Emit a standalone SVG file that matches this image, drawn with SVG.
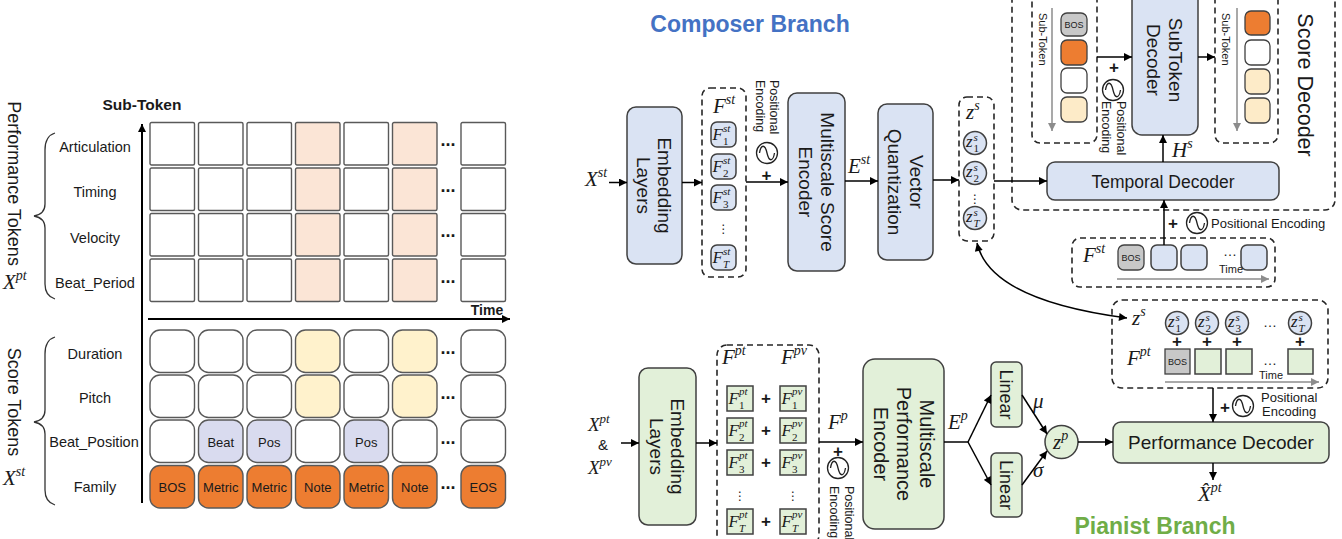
<svg xmlns="http://www.w3.org/2000/svg" xmlns:xlink="http://www.w3.org/1999/xlink" width="1342" height="539" viewBox="0 0 1342 539">
<defs>
<style>
text{font-family:"Liberation Sans",Arial,sans-serif;fill:#1a1a1a}
.m{font-family:"Liberation Serif","Times New Roman",serif;font-style:italic}
.u{font-style:normal}
.lb{font-size:14.5px;text-anchor:middle}
.ct{font-size:13px;text-anchor:middle}
.ax{fill:none;stroke:#000;stroke-width:2}
.bb{fill:#dae3f3;stroke:#404040;stroke-width:1.5}
.gb{fill:#e2f0d9;stroke:#404040;stroke-width:1.5}
.tk{stroke:#404040;stroke-width:1.3}
.ds{fill:none;stroke:#262626;stroke-width:1.6;stroke-dasharray:6 4}
.cn{fill:none;stroke:#000;stroke-width:1.5}
.ga{fill:none;stroke:#8c8c8c;stroke-width:1.5}
.br{fill:none;stroke:#333;stroke-width:1.3}
.bt{font-size:19px;text-anchor:middle}
.pl{font-weight:bold;font-size:17px;text-anchor:middle}
.pe{font-size:12.5px}
.dots{font-weight:bold;font-size:18px;text-anchor:middle}
.el{font-size:14px;text-anchor:middle}
.sm{font-size:9px;text-anchor:middle}
.vd{font-family:"DejaVu Sans",sans-serif;font-size:12px;text-anchor:middle}
</style>
<marker id="ah" viewBox="0 0 10 10" refX="10" refY="5" markerWidth="9" markerHeight="8" markerUnits="userSpaceOnUse" orient="auto-start-reverse"><path d="M0,0 L10,5 L0,10 z" fill="#000"/></marker>
<marker id="gah" viewBox="0 0 10 10" refX="10" refY="5" markerWidth="9" markerHeight="8" markerUnits="userSpaceOnUse" orient="auto-start-reverse"><path d="M0,0 L10,5 L0,10 z" fill="#8c8c8c"/></marker>
<rect id="sq" width="44.5" height="42.5" rx="1.5" stroke="#595959" stroke-width="1.4"/>
<rect id="rr" width="44.5" height="42.5" rx="10" stroke="#595959" stroke-width="1.4"/>
<g id="pesym"><circle r="10.5" fill="#fff" stroke="#222" stroke-width="1.3"/><path d="M-7.5,0 C-6,-9 -2,-9 0,0 S6,9 7.5,0" fill="none" stroke="#222" stroke-width="1.3"/></g>
</defs>

<!-- ================= LEFT PANEL ================= -->
<g id="token-grid">
<text x="142" y="110" font-size="15.5" font-weight="bold" text-anchor="middle">Sub-Token</text>
<path class="ax" d="M142,503V124" marker-end="url(#ah)"/>
<path class="ax" d="M148,319H510" marker-end="url(#ah)"/>
<text x="487" y="315" font-size="14" font-weight="bold" text-anchor="middle">Time</text>

<text font-size="18" transform="translate(8,183.5) rotate(90)" text-anchor="middle">Performance Tokens</text>
<text class="m" x="3" y="289" font-size="21">X<tspan font-size="14" dy="-9">pt</tspan></text>
<path class="br" d="M55,133 Q45,136 45,150 L45,204 Q45,214 34,216 Q45,218 45,228 L45,284 Q45,296 55,299"/>
<text font-size="18" transform="translate(8,402) rotate(90)" text-anchor="middle">Score Tokens</text>
<text class="m" x="3" y="485" font-size="21">X<tspan font-size="14" dy="-9">st</tspan></text>
<path class="br" d="M55,337 Q45,340 45,354 L45,410 Q45,420 34,422 Q45,424 45,434 L45,490 Q45,502 55,505"/>

<text class="lb" x="95" y="151.5">Articulation</text>
<text class="lb" x="95" y="197">Timing</text>
<text class="lb" x="95" y="243">Velocity</text>
<text class="lb" x="95" y="288">Beat_Period</text>
<text class="lb" x="95" y="358.5">Duration</text>
<text class="lb" x="95" y="403">Pitch</text>
<text class="lb" x="94" y="447">Beat_Position</text>
<text class="lb" x="95" y="491.5">Family</text>

<!-- performance rows -->
<use href="#sq" x="150" y="122.5" fill="#fff"/><use href="#sq" x="198.5" y="122.5" fill="#fff"/><use href="#sq" x="247" y="122.5" fill="#fff"/><use href="#sq" x="295.5" y="122.5" fill="#fbe5d6"/><use href="#sq" x="344" y="122.5" fill="#fff"/><use href="#sq" x="392.5" y="122.5" fill="#fbe5d6"/><use href="#sq" x="461" y="122.5" fill="#fff"/>
<use href="#sq" x="150" y="168" fill="#fff"/><use href="#sq" x="198.5" y="168" fill="#fff"/><use href="#sq" x="247" y="168" fill="#fff"/><use href="#sq" x="295.5" y="168" fill="#fbe5d6"/><use href="#sq" x="344" y="168" fill="#fff"/><use href="#sq" x="392.5" y="168" fill="#fbe5d6"/><use href="#sq" x="461" y="168" fill="#fff"/>
<use href="#sq" x="150" y="213.5" fill="#fff"/><use href="#sq" x="198.5" y="213.5" fill="#fff"/><use href="#sq" x="247" y="213.5" fill="#fff"/><use href="#sq" x="295.5" y="213.5" fill="#fbe5d6"/><use href="#sq" x="344" y="213.5" fill="#fff"/><use href="#sq" x="392.5" y="213.5" fill="#fbe5d6"/><use href="#sq" x="461" y="213.5" fill="#fff"/>
<use href="#sq" x="150" y="259" fill="#fff"/><use href="#sq" x="198.5" y="259" fill="#fff"/><use href="#sq" x="247" y="259" fill="#fff"/><use href="#sq" x="295.5" y="259" fill="#fbe5d6"/><use href="#sq" x="344" y="259" fill="#fff"/><use href="#sq" x="392.5" y="259" fill="#fbe5d6"/><use href="#sq" x="461" y="259" fill="#fff"/>
<!-- score rows -->
<use href="#rr" x="150" y="330" fill="#fff"/><use href="#rr" x="198.5" y="330" fill="#fff"/><use href="#rr" x="247" y="330" fill="#fff"/><use href="#rr" x="295.5" y="330" fill="#fff2cc"/><use href="#rr" x="344" y="330" fill="#fff"/><use href="#rr" x="392.5" y="330" fill="#fff2cc"/><use href="#rr" x="461" y="330" fill="#fff"/>
<use href="#rr" x="150" y="375" fill="#fff"/><use href="#rr" x="198.5" y="375" fill="#fff"/><use href="#rr" x="247" y="375" fill="#fff"/><use href="#rr" x="295.5" y="375" fill="#fff2cc"/><use href="#rr" x="344" y="375" fill="#fff"/><use href="#rr" x="392.5" y="375" fill="#fff2cc"/><use href="#rr" x="461" y="375" fill="#fff"/>
<use href="#rr" x="150" y="420" fill="#fff"/><use href="#rr" x="198.5" y="420" fill="#d9dbef"/><use href="#rr" x="247" y="420" fill="#d9dbef"/><use href="#rr" x="295.5" y="420" fill="#fff"/><use href="#rr" x="344" y="420" fill="#d9dbef"/><use href="#rr" x="392.5" y="420" fill="#fff"/><use href="#rr" x="461" y="420" fill="#fff"/>
<use href="#rr" x="150" y="465.5" fill="#ed7d31"/><use href="#rr" x="198.5" y="465.5" fill="#ed7d31"/><use href="#rr" x="247" y="465.5" fill="#ed7d31"/><use href="#rr" x="295.5" y="465.5" fill="#ed7d31"/><use href="#rr" x="344" y="465.5" fill="#ed7d31"/><use href="#rr" x="392.5" y="465.5" fill="#ed7d31"/><use href="#rr" x="461" y="465.5" fill="#ed7d31"/>

<text class="ct" x="220.75" y="446.5">Beat</text>
<text class="ct" x="269.25" y="446.5">Pos</text>
<text class="ct" x="366.25" y="446.5">Pos</text>
<text class="ct" x="172.25" y="492">BOS</text>
<text class="ct" x="220.75" y="492">Metric</text>
<text class="ct" x="269.25" y="492">Metric</text>
<text class="ct" x="317.75" y="492">Note</text>
<text class="ct" x="366.25" y="492">Metric</text>
<text class="ct" x="414.75" y="492">Note</text>
<text class="ct" x="483.25" y="492">EOS</text>

<text class="dots" x="448" y="146">...</text>
<text class="dots" x="448" y="191.5">...</text>
<text class="dots" x="448" y="237">...</text>
<text class="dots" x="448" y="282.5">...</text>
<text class="dots" x="448" y="353.5">...</text>
<text class="dots" x="448" y="398.5">...</text>
<text class="dots" x="448" y="443.5">...</text>
<text class="dots" x="448" y="489">...</text>
</g>

<!-- ================= COMPOSER BRANCH ================= -->
<text x="750" y="32" font-size="23" font-weight="bold" text-anchor="middle" style="fill:#4472c4">Composer Branch</text>

<g id="xst-input"><text class="m" x="585" y="186" font-size="21">X<tspan font-size="14" dy="-9">st</tspan></text></g>

<g id="embedding-top">
<rect class="bb" x="627" y="107" width="55" height="157" rx="9"/>
<text class="bt" transform="translate(654.5,185.5) rotate(90)"><tspan x="0" y="-3.9">Embedding</tspan><tspan x="0" y="17.1">Layers</tspan></text>
</g>

<g id="fst-column">
<rect class="ds" x="702" y="88" width="44" height="189" rx="8"/>
<text class="m" x="713" y="113" font-size="21">F<tspan font-size="14" dy="-9">st</tspan></text>
<rect class="bb" x="711" y="122" width="25" height="25" rx="6"/>
<rect class="bb" x="711" y="154" width="25" height="25" rx="6"/>
<rect class="bb" x="711" y="185" width="25" height="25" rx="6"/>
<rect class="bb" x="711" y="245" width="25" height="25" rx="6"/>
<text class="m" font-size="17"><tspan x="712.5" y="140">F</tspan><tspan x="723" y="132" font-size="11">st</tspan><tspan x="723" y="145" font-size="11" class="u">1</tspan></text>
<text class="m" font-size="17"><tspan x="712.5" y="172">F</tspan><tspan x="723" y="164" font-size="11">st</tspan><tspan x="723" y="177" font-size="11" class="u">2</tspan></text>
<text class="m" font-size="17"><tspan x="712.5" y="203">F</tspan><tspan x="723" y="195" font-size="11">st</tspan><tspan x="723" y="208" font-size="11" class="u">3</tspan></text>
<text class="vd" x="723.5" y="233">⋮</text>
<text class="m" font-size="17"><tspan x="712.5" y="263">F</tspan><tspan x="723" y="255" font-size="11">st</tspan><tspan x="723" y="268" font-size="11">T</tspan></text>
</g>

<g id="pe-top">
<text class="pe" transform="translate(770,80) rotate(90)"><tspan x="0" y="0">Positional</tspan><tspan x="0" y="14.5">Encoding</tspan></text>
<use href="#pesym" x="767" y="153"/>
<text class="pl" x="766.5" y="181">+</text>
</g>

<g id="score-encoder">
<rect class="bb" x="788" y="93" width="57" height="178" rx="9"/>
<text class="bt" transform="translate(816.5,182) rotate(90)"><tspan x="0" y="-4.4">Multiscale Score</tspan><tspan x="0" y="17.6">Encoder</tspan></text>
</g>
<text class="m" x="848" y="173" font-size="21">E<tspan font-size="14" dy="-9">st</tspan></text>

<g id="vector-quantization">
<rect class="bb" x="878" y="104" width="55" height="156" rx="9"/>
<text class="bt" transform="translate(905.5,182) rotate(90)"><tspan x="0" y="-4.4">Vector</tspan><tspan x="0" y="17.6">Quantization</tspan></text>
</g>

<g id="zs-column">
<rect class="ds" x="959" y="97" width="35" height="144" rx="8"/>
<text class="m" x="966" y="119" font-size="21">z<tspan font-size="14" dy="-9">s</tspan></text>
<circle class="bb" cx="975" cy="143" r="11.5"/>
<circle class="bb" cx="975" cy="173" r="11.5"/>
<circle class="bb" cx="975" cy="218" r="11.5"/>
<text class="m" font-size="17"><tspan x="966" y="147">z</tspan><tspan x="973.5" y="141" font-size="11">s</tspan><tspan x="973.5" y="152" font-size="11" class="u">1</tspan></text>
<text class="m" font-size="17"><tspan x="966" y="177">z</tspan><tspan x="973.5" y="171" font-size="11">s</tspan><tspan x="973.5" y="182" font-size="11" class="u">2</tspan></text>
<text class="vd" x="975" y="203">⋮</text>
<text class="m" font-size="17"><tspan x="966" y="222">z</tspan><tspan x="973.5" y="216" font-size="11">s</tspan><tspan x="973.5" y="227" font-size="11">T</tspan></text>
</g>

<!-- ================= SCORE DECODER ================= -->
<g id="score-decoder">
<rect class="ds" x="1012" y="-20" width="323" height="230" rx="10"/>
<text font-size="21.5" text-anchor="middle" transform="translate(1298,85) rotate(90)">Score Decoder</text>
</g>

<g id="subtoken-input">
<rect class="ds" x="1032" y="-20" width="65" height="163" rx="8"/>
<text font-size="11" transform="translate(1038.5,13) rotate(90)">Sub-Token</text>
<rect class="tk" x="1061" y="13" width="26" height="23" rx="6" fill="#c8c8c8"/>
<text class="sm" x="1074" y="28">BOS</text>
<rect class="tk" x="1061" y="40" width="26" height="25" rx="6" fill="#ed7d31"/>
<rect class="tk" x="1061" y="68" width="26" height="25" rx="6" fill="#fff"/>
<rect class="tk" x="1061" y="97" width="26" height="25" rx="6" fill="#fdebc8"/>
</g>

<g id="pe-subtoken">
<use href="#pesym" x="1113" y="90"/>
<text class="pl" x="1114" y="73">+</text>
<text class="pe" transform="translate(1117,101) rotate(90)"><tspan x="0" y="0">Positional</tspan><tspan x="0" y="15">Encoding</tspan></text>
</g>

<g id="subtoken-decoder">
<rect class="bb" x="1132" y="-10" width="66" height="145" rx="10"/>
<text class="bt" transform="translate(1165,60) rotate(90)"><tspan x="0" y="-4.4">SubToken</tspan><tspan x="0" y="17.6">Decoder</tspan></text>
</g>

<g id="subtoken-output">
<rect class="ds" x="1215" y="-20" width="63" height="163" rx="8"/>
<text font-size="11" transform="translate(1221.5,13) rotate(90)">Sub-Token</text>
<rect class="tk" x="1245" y="11" width="25" height="24" rx="6" fill="#ed7d31"/>
<rect class="tk" x="1245" y="40" width="25" height="25" rx="6" fill="#fff"/>
<rect class="tk" x="1245" y="69" width="25" height="25" rx="6" fill="#fdebc8"/>
<rect class="tk" x="1245" y="98" width="25" height="25" rx="6" fill="#fdebc8"/>
</g>

<text class="m" x="1172" y="157" font-size="21">H<tspan font-size="14" dy="-9">s</tspan></text>

<g id="temporal-decoder">
<rect class="bb" x="1047" y="162" width="232" height="38" rx="8"/>
<text x="1163" y="187.5" font-size="17.5" text-anchor="middle">Temporal Decoder</text>
</g>

<g id="pe-temporal">
<text class="pl" x="1173" y="229">+</text>
<use href="#pesym" x="1197" y="223"/>
<text x="1211" y="228" font-size="13">Positional Encoding</text>
</g>

<g id="fst-sequence">
<rect class="ds" x="1072" y="238" width="203" height="49" rx="8"/>
<text class="m" x="1083" y="262" font-size="21">F<tspan font-size="14" dy="-9">st</tspan></text>
<rect class="tk" x="1118" y="245" width="26" height="25" rx="6" fill="#c8c8c8"/>
<text class="sm" x="1131" y="261">BOS</text>
<rect class="bb" x="1151" y="245" width="26" height="25" rx="6"/>
<rect class="bb" x="1181" y="245" width="26" height="25" rx="6"/>
<rect class="bb" x="1241" y="245" width="26" height="25" rx="6"/>
<text class="el" x="1230" y="256">…</text>
<text x="1231" y="273" font-size="11" text-anchor="middle">Time</text>
</g>

<!-- ================= PERFORMANCE DECODER INPUT ================= -->
<g id="zs-fpt-sequence">
<rect class="ds" x="1112" y="300" width="216" height="88" rx="10"/>
<text class="m" x="1132" y="325" font-size="21">z<tspan font-size="14" dy="-9">s</tspan></text>
<circle class="bb" cx="1177" cy="323" r="11.5"/>
<circle class="bb" cx="1207" cy="323" r="11.5"/>
<circle class="bb" cx="1237" cy="323" r="11.5"/>
<circle class="bb" cx="1300" cy="323" r="11.5"/>
<text class="m" font-size="17"><tspan x="1168" y="327">z</tspan><tspan x="1175.5" y="321" font-size="11">s</tspan><tspan x="1175.5" y="332" font-size="11" class="u">1</tspan></text>
<text class="m" font-size="17"><tspan x="1198" y="327">z</tspan><tspan x="1205.5" y="321" font-size="11">s</tspan><tspan x="1205.5" y="332" font-size="11" class="u">2</tspan></text>
<text class="m" font-size="17"><tspan x="1228" y="327">z</tspan><tspan x="1235.5" y="321" font-size="11">s</tspan><tspan x="1235.5" y="332" font-size="11" class="u">3</tspan></text>
<text class="el" x="1270" y="327">…</text>
<text class="m" font-size="17"><tspan x="1291" y="327">z</tspan><tspan x="1298.5" y="321" font-size="11">s</tspan><tspan x="1298.5" y="332" font-size="11">T</tspan></text>
<text class="pl" x="1177" y="347" font-size="15">+</text>
<text class="pl" x="1207" y="347" font-size="15">+</text>
<text class="pl" x="1237" y="347" font-size="15">+</text>
<text class="pl" x="1300" y="347" font-size="15">+</text>
<text class="m" x="1127" y="365" font-size="21">F<tspan font-size="14" dy="-9">pt</tspan></text>
<rect class="tk" x="1165" y="349" width="25" height="25" fill="#c8c8c8"/>
<text class="sm" x="1177.5" y="365">BOS</text>
<rect class="gb" x="1195" y="349" width="26" height="25"/>
<rect class="gb" x="1226" y="349" width="26" height="25"/>
<rect class="gb" x="1288" y="349" width="25" height="25"/>
<text class="el" x="1270" y="365">…</text>
<text x="1271" y="379" font-size="11" text-anchor="middle">Time</text>
</g>

<g id="pe-perf-decoder">
<text class="pl" x="1225" y="413">+</text>
<use href="#pesym" x="1243" y="406"/>
<text x="1261" y="402" font-size="13">Positional</text>
<text x="1262" y="416" font-size="13">Encoding</text>
</g>

<!-- ================= PIANIST BRANCH ================= -->
<g id="xp-input">
<text class="m" x="588" y="431" font-size="19">X<tspan font-size="13" dy="-8">pt</tspan></text>
<text x="603" y="450" font-size="15" text-anchor="middle">&amp;</text>
<text class="m" x="588" y="474" font-size="19">X<tspan font-size="13" dy="-8">pv</tspan></text>
</g>

<g id="embedding-bottom">
<rect class="gb" x="639" y="368" width="57" height="157" rx="9"/>
<text class="bt" transform="translate(667.5,446.5) rotate(90)"><tspan x="0" y="-3.9">Embedding</tspan><tspan x="0" y="17.1">Layers</tspan></text>
</g>

<g id="fpt-fpv-column">
<rect class="ds" x="717" y="345" width="102" height="200" rx="10"/>
<text class="m" x="722" y="364" font-size="21">F<tspan font-size="14" dy="-9">pt</tspan></text>
<text class="m" x="781" y="364" font-size="21">F<tspan font-size="14" dy="-9">pv</tspan></text>
<rect class="gb" x="727" y="386" width="26" height="25"/><rect class="gb" x="780" y="386" width="26" height="25"/>
<rect class="gb" x="727" y="418" width="26" height="25"/><rect class="gb" x="780" y="418" width="26" height="25"/>
<rect class="gb" x="727" y="450" width="26" height="25"/><rect class="gb" x="780" y="450" width="26" height="25"/>
<rect class="gb" x="727" y="509" width="26" height="25"/><rect class="gb" x="780" y="509" width="26" height="25"/>
<text class="m" font-size="17"><tspan x="728.5" y="404">F</tspan><tspan x="739" y="395" font-size="11">pt</tspan><tspan x="739" y="409" font-size="11" class="u">1</tspan></text>
<text class="m" font-size="17"><tspan x="781.5" y="404">F</tspan><tspan x="792" y="395" font-size="11">pv</tspan><tspan x="792" y="409" font-size="11" class="u">1</tspan></text>
<text class="m" font-size="17"><tspan x="728.5" y="436">F</tspan><tspan x="739" y="427" font-size="11">pt</tspan><tspan x="739" y="441" font-size="11" class="u">2</tspan></text>
<text class="m" font-size="17"><tspan x="781.5" y="436">F</tspan><tspan x="792" y="427" font-size="11">pv</tspan><tspan x="792" y="441" font-size="11" class="u">2</tspan></text>
<text class="m" font-size="17"><tspan x="728.5" y="468">F</tspan><tspan x="739" y="459" font-size="11">pt</tspan><tspan x="739" y="473" font-size="11" class="u">3</tspan></text>
<text class="m" font-size="17"><tspan x="781.5" y="468">F</tspan><tspan x="792" y="459" font-size="11">pv</tspan><tspan x="792" y="473" font-size="11" class="u">3</tspan></text>
<text class="m" font-size="17"><tspan x="728.5" y="527">F</tspan><tspan x="739" y="518" font-size="11">pt</tspan><tspan x="739" y="532" font-size="11">T</tspan></text>
<text class="m" font-size="17"><tspan x="781.5" y="527">F</tspan><tspan x="792" y="518" font-size="11">pv</tspan><tspan x="792" y="532" font-size="11">T</tspan></text>
<text class="pl" x="766" y="404">+</text>
<text class="pl" x="766" y="436">+</text>
<text class="pl" x="766" y="468">+</text>
<text class="pl" x="766" y="527">+</text>
<text class="vd" x="740" y="500">⋮</text>
<text class="vd" x="793" y="500">⋮</text>
</g>

<text class="m" x="828" y="429" font-size="21">F<tspan font-size="14" dy="-9">p</tspan></text>
<g id="pe-perf-encoder">
<text class="pl" x="838" y="457">+</text>
<use href="#pesym" x="838" y="468"/>
<text class="pe" transform="translate(845,486) rotate(90)"><tspan x="0" y="0">Positional</tspan><tspan x="0" y="15">Encoding</tspan></text>
</g>

<g id="performance-encoder">
<rect class="gb" x="863" y="359" width="81" height="170" rx="12"/>
<text class="bt" style="font-size:20px" transform="translate(903.5,444) rotate(90)"><tspan x="0" y="-16">Multiscale</tspan><tspan x="0" y="7">Performance</tspan><tspan x="0" y="30">Encoder</tspan></text>
</g>
<text class="m" x="948" y="429" font-size="21">E<tspan font-size="14" dy="-9">p</tspan></text>

<g id="linear-mu">
<rect class="gb" x="991" y="362" width="31" height="65" rx="5"/>
<text class="bt" style="font-size:18px" transform="translate(1006.5,394.5) rotate(90)"><tspan x="0" y="6.3">Linear</tspan></text>
</g>
<g id="linear-sigma">
<rect class="gb" x="991" y="453" width="31" height="64" rx="5"/>
<text class="bt" style="font-size:18px" transform="translate(1006.5,485) rotate(90)"><tspan x="0" y="6.3">Linear</tspan></text>
</g>
<text class="m" x="1033" y="408" font-size="21">μ</text>
<text class="m" x="1033" y="477" font-size="21">σ</text>

<g id="zp">
<circle class="gb" cx="1061.5" cy="442" r="16.5"/>
<text class="m" x="1053" y="449" font-size="21">z<tspan font-size="14" dy="-9">p</tspan></text>
</g>

<g id="performance-decoder">
<rect class="gb" x="1113" y="422" width="216" height="41" rx="8"/>
<text x="1221" y="449" font-size="19" text-anchor="middle">Performance Decoder</text>
</g>

<g id="output">
<text class="m" x="1198" y="501" font-size="21">X̂<tspan font-size="14" dy="-9">pt</tspan></text>
</g>

<text x="1155" y="534" font-size="23" font-weight="bold" text-anchor="middle" style="fill:#70ad47">Pianist Branch</text>

<!-- ================= CONNECTORS ================= -->
<g id="connectors">
<path class="cn" d="M609,182.5H627" marker-end="url(#ah)"/>
<path class="cn" d="M682,182.5H702" marker-end="url(#ah)"/>
<path class="cn" d="M746,182H788" marker-end="url(#ah)"/>
<path class="cn" d="M845,181H878" marker-end="url(#ah)"/>
<path class="cn" d="M933,180H959" marker-end="url(#ah)"/>
<path class="cn" d="M994,181H1047" marker-end="url(#ah)"/>
<path class="cn" d="M1097,57H1132" marker-end="url(#ah)"/>
<path class="cn" d="M1198,57H1215" marker-end="url(#ah)"/>
<path class="cn" d="M1163,162V135" marker-end="url(#ah)"/>
<path class="cn" d="M1164,245V200" marker-end="url(#ah)"/>
<path class="cn" d="M977,243Q990,300 1127,318" marker-start="url(#ah)" marker-end="url(#ah)"/>
<path class="cn" d="M1213,388V422" marker-end="url(#ah)"/>
<path class="cn" d="M1078,442H1113" marker-end="url(#ah)"/>
<path class="cn" d="M1213,463V480" marker-end="url(#ah)"/>
<path class="cn" d="M621,443H639" marker-end="url(#ah)"/>
<path class="cn" d="M696,443H717" marker-end="url(#ah)"/>
<path class="cn" d="M819,442H863" marker-end="url(#ah)"/>
<path class="cn" d="M944,442H968"/>
<path class="cn" d="M968,442L991,395" marker-end="url(#ah)"/>
<path class="cn" d="M968,442L991,485" marker-end="url(#ah)"/>
<path class="cn" d="M1022,395L1047,434" marker-end="url(#ah)"/>
<path class="cn" d="M1022,485L1047,451" marker-end="url(#ah)"/>
<path class="ga" d="M1052,8V131" marker-end="url(#gah)"/>
<path class="ga" d="M1237,8V131" marker-end="url(#gah)"/>
<path class="ga" d="M1117,279H1269" marker-end="url(#gah)"/>
<path class="ga" d="M1165,382H1319" marker-end="url(#gah)"/>
</g>
</svg>
